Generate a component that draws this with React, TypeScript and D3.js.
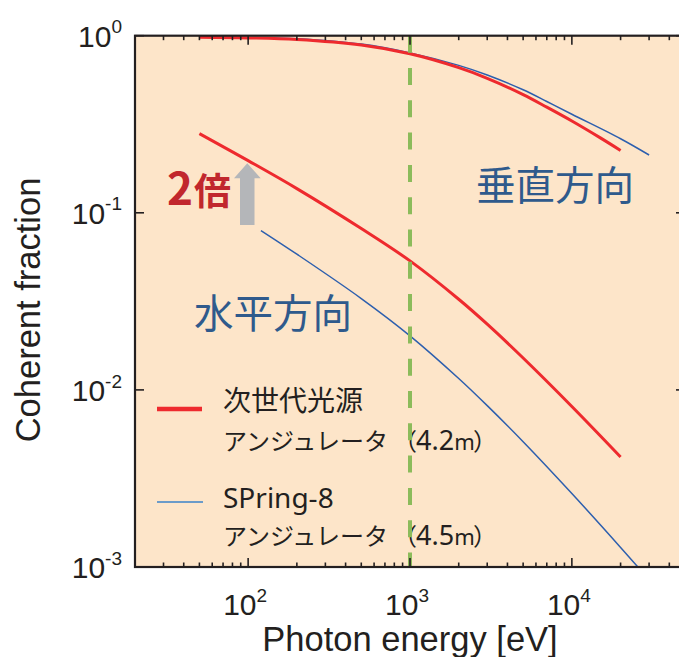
import React from "react";
import * as d3 from "d3";

const energyRedV = [50, 100, 200, 500, 1000, 2000, 3000, 5000, 7000, 10000, 15000, 20000];
const redV = [0.98, 0.972, 0.952, 0.885, 0.79, 0.66, 0.575, 0.465, 0.395, 0.33, 0.265, 0.225];
const energyBlueV = [120, 200, 500, 1000, 2000, 3000, 5000, 7000, 10000, 20000, 30000];
const blueV = [0.975, 0.962, 0.897, 0.8, 0.68, 0.6, 0.495, 0.425, 0.36, 0.262, 0.212];
const energyRedH = [50, 100, 200, 500, 1000, 2000, 3000, 5000, 10000, 20000];
const redH = [0.28, 0.197, 0.137, 0.0815, 0.0535, 0.0325, 0.0235, 0.01514, 0.00806, 0.00418];
const energyBlueH = [120, 200, 500, 1000, 2000, 3000, 5000, 10000, 20000, 30000];
const blueH = [0.0794, 0.0584, 0.0328, 0.0202, 0.0116, 0.00815, 0.0051, 0.0026, 0.00129, 0.000847];

const xMajor = [100, 1000, 10000];
const xMajorExp = ["2", "3", "4"];
const yMajor = [1, 0.1, 0.01, 0.001];
const yMajorExp = ["0", "-1", "-2", "-3"];
const markerEnergy = 1000;

const W = 679;
const H = 657;
const L = 135, R = 685, T = 35.7, B = 567;

export default function App() {
  const x = d3.scaleLog().domain([20, 50000]).range([L, R]);
  const y = d3.scaleLog().domain([1e-3, 1]).range([B, T]);
  const line = d3
    .line<[number, number]>()
    .x((d) => x(d[0]))
    .y((d) => y(d[1]))
    .curve(d3.curveCatmullRom.alpha(0.5));
  const zip = (a: number[], b: number[]) => a.map((v, i) => [v, b[i]] as [number, number]);

  const minor: number[] = [];
  [10, 100, 1000, 10000].forEach((dec) => {
    for (let m = 2; m <= 9; m++) {
      const v = dec * m;
      if (v > 20 && v < 50000) minor.push(v);
    }
  });

  const axisColor = "#231f20";
  const sans = "'Liberation Sans', Arial, sans-serif";
  const jp = "'Noto Sans', 'Noto Sans CJK JP', sans-serif";
  const cjk = "'Noto Sans CJK JP', sans-serif";
  const blueLabel = "#2f5a8c";

  const legendSub = (yb: number, num: string) => (
    <text y={yb} fill={axisColor} fontFamily={jp}>
      <tspan x={223} fontSize={24} fontFamily={cjk}>アンジュレータ</tspan>
      <tspan x={393} fontSize={24} fontFamily={cjk}>（</tspan>
      <tspan x={416} fontSize={27}>{num}</tspan>
      <tspan fontSize={22}>m</tspan>
      <tspan x={473} fontSize={24} fontFamily={cjk}>）</tspan>
    </text>
  );

  return (
    <svg width={W} height={H} style={{ position: "absolute", left: 0, top: 0 }}>
      <defs>
        <clipPath id="plot">
          <rect x={L} y={T} width={R - L} height={B - T} />
        </clipPath>
      </defs>
      <rect x={0} y={0} width={W} height={H} fill="#ffffff" />
      <rect x={L} y={T} width={R - L} height={B - T} fill="#fde5c9" />

      {/* curves */}
      <g clipPath="url(#plot)" fill="none">
        <path d={line(zip(energyBlueV, blueV)) || ""} stroke="#2d5fae" strokeWidth={1.5} />
        <path d={line(zip(energyRedV, redV)) || ""} stroke="#ee2a2e" strokeWidth={3} />
        <path d={line(zip(energyBlueH, blueH)) || ""} stroke="#2d5fae" strokeWidth={1.5} />
        <path d={line(zip(energyRedH, redH)) || ""} stroke="#ee2a2e" strokeWidth={3} />
      </g>

      {/* arrow */}
      <path
        d={`M240,225 L254.5,225 L254.5,178.3 L260.7,178.3 L247.3,163.3 L234,178.3 L240,178.3 Z`}
        fill="#b4b6b9"
      />
      <text x={167} y={205} fill="#c1272d" fontFamily={cjk} fontWeight={700}>
        <tspan fontSize={44}>2</tspan>
        <tspan fontSize={37} dx={1}>倍</tspan>
      </text>

      {/* region labels */}
      <text x={476} y={200} fill={blueLabel} fontSize={39.5} fontFamily={cjk}>垂直方向</text>
      <text x={194} y={328} fill={blueLabel} fontSize={39.5} fontFamily={cjk}>水平方向</text>

      {/* legend */}
      <line x1={157} x2={202} y1={409} y2={409} stroke="#ee2a2e" strokeWidth={4.5} />
      <line x1={157} x2={203} y1={502} y2={502} stroke="#3a82c8" strokeWidth={1.6} />
      <text x={223} y={411} fill={axisColor} fontSize={28} fontFamily={jp}>次世代光源</text>
      {legendSub(450, "4.2")}
      <text x={223} y={508} fill={axisColor} fontSize={28} fontFamily={jp}>SPring-8</text>
      {legendSub(545, "4.5")}

      {/* marker line */}
      <line
        x1={x(markerEnergy)}
        x2={x(markerEnergy)}
        y1={T}
        y2={B}
        stroke="#8cbb5b"
        strokeWidth={4}
        strokeDasharray="17 15.3"
      />

      {/* ticks */}
      <g stroke={axisColor} strokeWidth={1.6}>
        {xMajor.map((v) => (
          <g key={"xm" + v}>
            <line x1={x(v)} x2={x(v)} y1={B} y2={B - 9} />
            <line x1={x(v)} x2={x(v)} y1={T} y2={T + 9} />
          </g>
        ))}
        {minor.map((v) => (
          <g key={"xn" + v}>
            <line x1={x(v)} x2={x(v)} y1={B} y2={B - 4.5} />
            <line x1={x(v)} x2={x(v)} y1={T} y2={T + 4.5} />
          </g>
        ))}
        {yMajor.map((v) => (
          <g key={"ym" + v}>
            <line x1={L} x2={L + 9} y1={y(v)} y2={y(v)} />
            <line x1={R} x2={R - 9} y1={y(v)} y2={y(v)} />
          </g>
        ))}
      </g>
      <rect x={L} y={T} width={R - L} height={B - T} fill="none" stroke={axisColor} strokeWidth={2.2} />

      {/* tick labels */}
      {yMajor.map((v, i) => (
        <text key={"yl" + v} x={122} y={y(v) + 11} textAnchor="end" fontFamily={sans} fontSize={30} fill={axisColor}>
          10
          <tspan fontSize={19} dy={-13.4}>{yMajorExp[i]}</tspan>
        </text>
      ))}
      {xMajor.map((v, i) => (
        <text key={"xl" + v} x={x(v) - 3} y={615} textAnchor="middle" fontFamily={sans} fontSize={30} fill={axisColor}>
          10
          <tspan fontSize={19} dy={-13.4}>{xMajorExp[i]}</tspan>
        </text>
      ))}

      {/* axis titles */}
      <text x={410} y={651} textAnchor="middle" fontFamily={sans} fontSize={34.5} fill={axisColor}>
        Photon energy [eV]
      </text>
      <text
        transform="translate(40,310) rotate(-90)"
        textAnchor="middle"
        fontFamily={sans}
        fontSize={34.5}
        fill={axisColor}
      >
        Coherent fraction
      </text>
    </svg>
  );
}
